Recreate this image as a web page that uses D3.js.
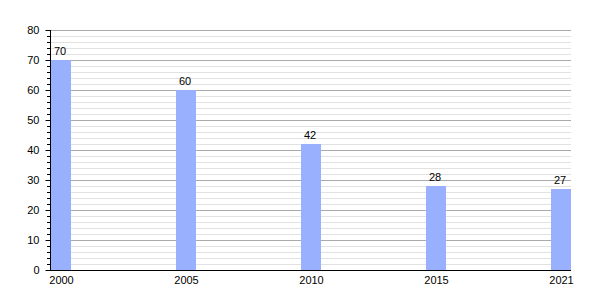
<!DOCTYPE html>
<html>
<head>
<meta charset="utf-8">
<script src="https://cdn.jsdelivr.net/npm/d3@7"></script>
<style>
  body { margin: 0; background: #fff; }
  svg { font-family: "Liberation Sans", Arial, sans-serif; }
</style>
</head>
<body>
<div id="chart"></div>
<script>
const years = ["2000", "2005", "2010", "2015", "2021"];
const values = [70, 60, 42, 28, 27];
const yTicks = [0, 10, 20, 30, 40, 50, 60, 70, 80];

const WIDTH = 600, HEIGHT = 300;
let margin = {top: 30, right: 29, bottom: 30, left: 50};
let width = WIDTH - margin.left - margin.right;
let height = HEIGHT - margin.top - margin.bottom;

let svg = d3.select('#chart').append('svg')
    .attr('width', WIDTH)
    .attr('height', HEIGHT);
let g = svg.append('g')
    .attr('transform', 'translate(' + margin.left + ',' + margin.top + ')');

let yScale = d3.scaleLinear().domain([0, 80]).range([height, 0]);
let xScale = d3.scalePoint().domain(years).range([11, width - 10]);
const barW = 20;

// minor grid every 2
let minor = d3.range(0, 81, 2).filter(v => v % 10 !== 0);
g.selectAll('.minor').data(minor).enter().append('line')
    .attr('x1', 0).attr('x2', width)
    .attr('y1', d => yScale(d) + 0.5).attr('y2', d => yScale(d) + 0.5)
    .attr('stroke', '#e2e2e2');
g.selectAll('.major').data(yTicks.filter(v => v > 0)).enter().append('line')
    .attr('x1', 0).attr('x2', width)
    .attr('y1', d => yScale(d) + 0.5).attr('y2', d => yScale(d) + 0.5)
    .attr('stroke', '#aaaaaa');

// bars
g.selectAll('.bar').data(values).enter().append('rect')
    .attr('x', (d, i) => xScale(years[i]) - barW / 2)
    .attr('y', d => yScale(d))
    .attr('width', barW)
    .attr('height', d => height - yScale(d))
    .attr('fill', '#99b0ff');

// value labels
g.selectAll('.val').data(values).enter().append('text')
    .attr('x', (d, i) => xScale(years[i]) - 1)
    .attr('y', d => yScale(d) - 5)
    .attr('text-anchor', 'middle')
    .attr('font-size', 11)
    .text(d => d);

// y axis
let yAxis = d3.axisLeft(yScale).tickValues(yTicks).tickSize(5).tickPadding(6);
let ya = g.append('g').attr('transform', 'translate(0.5,0)').call(yAxis);
ya.select('.domain').attr('d', 'M0,0V' + height).attr('stroke', '#000');
ya.selectAll('text').attr('font-size', 11).attr('fill', '#000');
ya.selectAll('line').attr('stroke', '#000');
g.selectAll('.ytickm').data(minor).enter().append('line')
    .attr('x1', -3).attr('x2', 0.5)
    .attr('y1', d => yScale(d) + 0.5).attr('y2', d => yScale(d) + 0.5)
    .attr('stroke', '#000');

// x axis
let xAxis = d3.axisBottom(xScale).tickSize(0).tickPadding(6);
let xa = g.append('g').attr('transform', 'translate(0,' + (height + 0.5) + ')').call(xAxis);
xa.select('.domain').attr('d', 'M0,0H' + width).attr('stroke', '#000');
xa.selectAll('text').attr('font-size', 11).attr('fill', '#000');
</script>
</body>
</html>
